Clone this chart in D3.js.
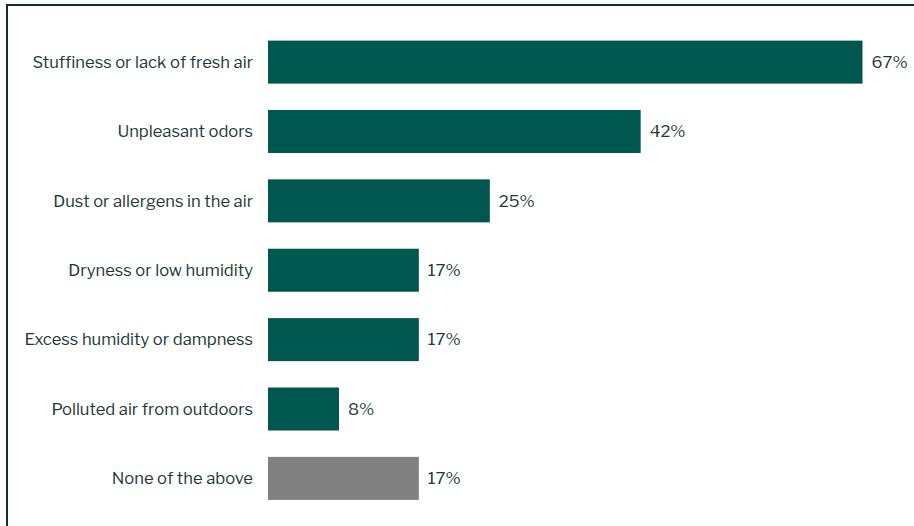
<!DOCTYPE html>
<html>
<head>
<meta charset="utf-8">
<script src="https://cdn.jsdelivr.net/npm/d3@7/dist/d3.min.js"></script>
<style>
  html, body { margin: 0; padding: 0; background: #fff; }
  svg { display: block; }
  text { font-family: "Libre Franklin", "Roboto", "Liberation Sans", sans-serif; }
</style>
</head>
<body>
<svg id="chart" width="914" height="526"></svg>
<script>
// Indoor air complaints, share of respondents
const categories = [
  "Stuffiness or lack of fresh air",
  "Unpleasant odors",
  "Dust or allergens in the air",
  "Dryness or low humidity",
  "Excess humidity or dampness",
  "Polluted air from outdoors",
  "None of the above"
];
const values = [67, 42, 25, 17, 17, 8, 17];
const highlight = [true, true, true, true, true, true, false];

const W = 914, H = 526;
const svg = d3.select("#chart");

// Frame: top and left rules
svg.append("line").attr("x1", 7).attr("x2", W).attr("y1", 5).attr("y2", 5)
  .attr("stroke", "#0e2f2c").attr("stroke-width", 2);
svg.append("line").attr("x1", 7).attr("x2", 7).attr("y1", 4).attr("y2", H)
  .attr("stroke", "#0e2f2c").attr("stroke-width", 2);

const x = d3.scaleLinear().domain([0, 67]).range([268, 862.5]);
const y = d3.scaleBand().domain(categories).range([29.5, 511]).paddingInner(0.38).paddingOuter(0.16);

const rows = svg.append("g").selectAll("g")
  .data(categories.map((c, i) => ({ c, v: values[i], hi: highlight[i] })))
  .join("g");

rows.append("rect")
  .attr("x", x(0))
  .attr("y", d => y(d.c))
  .attr("width", d => x(d.v) - x(0))
  .attr("height", y.bandwidth())
  .attr("fill", d => d.hi ? "#00574f" : "#808080");

rows.append("text")
  .attr("x", 253)
  .attr("y", d => y(d.c) + y.bandwidth() / 2)
  .attr("dy", "0.35em")
  .attr("text-anchor", "end")
  .attr("font-size", 16.6)
  .attr("fill", "#1d3b38")
  .text(d => d.c);

rows.append("text")
  .attr("x", d => x(d.v) + 9)
  .attr("y", d => y(d.c) + y.bandwidth() / 2)
  .attr("dy", "0.35em")
  .attr("font-size", 16.6)
  .attr("fill", "#1d3b38")
  .text(d => d.v + "%");
</script>
</body>
</html>
